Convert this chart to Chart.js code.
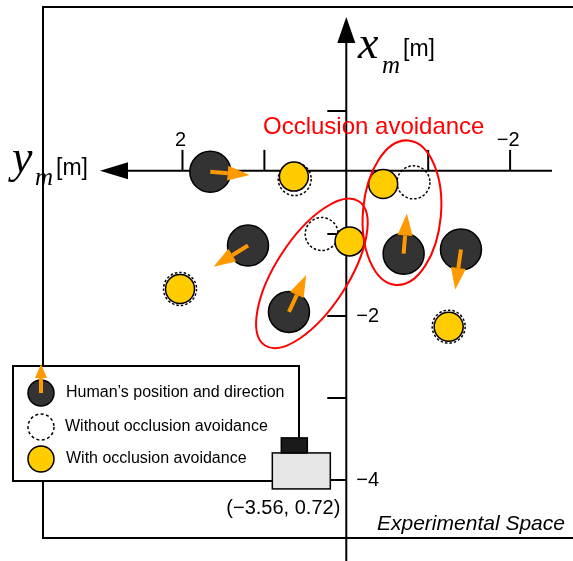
<!DOCTYPE html>
<html>
<head>
<meta charset="utf-8">
<script src="https://cdn.jsdelivr.net/npm/chart.js@4.4.1/dist/chart.umd.min.js"></script>
<style>
    html, body { margin: 0; padding: 0; background: #fff; }
    canvas { display: block; }
</style>
</head>
<body>
<canvas id="space" width="573" height="561"></canvas>
<script>
// positions in metres: y_m grows to the left, x_m grows upward
const humanY = [1.66, 1.20, 0.70, -0.70, -1.40];
const humanX = [-0.24, -1.14, -1.95, -1.24, -1.19];
// end point of each human's direction arrow
const headY = [1.18, 1.62, 0.49, -0.74, -1.33];
const headX = [-0.28, -1.40, -1.50, -0.75, -1.68];

// robot positions without occlusion avoidance
const plainY = [0.63, -0.82, 0.30, 2.03, -1.25];
const plainX = [-0.33, -0.37, -1.00, -1.67, -2.13];
// robot positions with occlusion avoidance
const avoidY = [0.64, -0.45, -0.04, 2.03, -1.25];
const avoidX = [-0.30, -0.39, -1.09, -1.67, -2.13];

// centres of the two circled "occlusion avoidance" cases
const groupY = [0.42, -0.68];
const groupX = [-1.48, -0.74];

const cameraY = 0.72;
const cameraX = -3.56;

const yTickVals = [2, 1, -1, -2];
const yTickText = ['2', '', '', '\u22122'];
const xTickVals = [0.5, -1, -2, -3, -4];
const xTickText = ['', '', '\u22122', '', '\u22124'];
const axisCross = -0.23;   // x_m where the y_m axis is drawn

const ORANGE = '#FF9900';
const SANS = '"Liberation Sans", Arial, sans-serif';
const SERIF = '"Liberation Serif", "Times New Roman", serif';

function pts(ys, xs) {
    return ys.map((v, i) => ({ x: v, y: xs[i] }));
}

function arrow(ctx, x0, y0, x1, y1, head, half, width) {
    const a = Math.atan2(y1 - y0, x1 - x0);
    const bx = x1 - head * Math.cos(a);
    const by = y1 - head * Math.sin(a);
    ctx.strokeStyle = ORANGE;
    ctx.fillStyle = ORANGE;
    ctx.lineWidth = width;
    ctx.lineCap = 'butt';
    ctx.beginPath();
    ctx.moveTo(x0, y0);
    ctx.lineTo(bx, by);
    ctx.stroke();
    ctx.beginPath();
    ctx.moveTo(x1, y1);
    ctx.lineTo(bx + half * Math.sin(a), by - half * Math.cos(a));
    ctx.lineTo(bx - half * Math.sin(a), by + half * Math.cos(a));
    ctx.closePath();
    ctx.fill();
}

function line(ctx, x0, y0, x1, y1) {
    ctx.beginPath();
    ctx.moveTo(x0, y0);
    ctx.lineTo(x1, y1);
    ctx.stroke();
}

const dashPlugin = {
    id: 'dash',
    beforeDatasetDraw(chart, args) {
        if (chart.data.datasets[args.index].dashed) {
            chart.ctx.save();
            chart.ctx.setLineDash([2.5, 2]);
        }
    },
    afterDatasetDraw(chart, args) {
        if (chart.data.datasets[args.index].dashed) {
            chart.ctx.restore();
        }
    }
};

const axesPlugin = {
    id: 'axes',
    beforeDatasetsDraw(chart) {
        const ctx = chart.ctx;
        const sx = chart.scales.x, sy = chart.scales.y;
        const ox = sx.getPixelForValue(0);
        const oy = sy.getPixelForValue(axisCross);

        ctx.save();
        ctx.strokeStyle = '#000';
        ctx.fillStyle = '#000';
        ctx.lineWidth = 2;

        // experimental space frame
        ctx.strokeRect(43, 7, 545, 531);

        // axes
        line(ctx, ox, 40, ox, 561);
        line(ctx, 126, oy, 552, oy);
        ctx.beginPath();
        ctx.moveTo(ox, 17); ctx.lineTo(ox - 9, 43); ctx.lineTo(ox + 9, 43);
        ctx.closePath(); ctx.fill();
        ctx.beginPath();
        ctx.moveTo(100, oy); ctx.lineTo(128, oy - 8.5); ctx.lineTo(128, oy + 8.5);
        ctx.closePath(); ctx.fill();

        // ticks
        ctx.font = '20px ' + SANS;
        ctx.textAlign = 'center';
        ctx.textBaseline = 'alphabetic';
        yTickVals.forEach((v, i) => {
            const p = sx.getPixelForValue(v);
            line(ctx, p, oy - 21, p, oy);
            if (yTickText[i]) ctx.fillText(yTickText[i], p - 2, oy - 25);
        });
        ctx.textAlign = 'left';
        ctx.textBaseline = 'middle';
        xTickVals.forEach((v, i) => {
            const p = sy.getPixelForValue(v);
            line(ctx, ox - 19, p, ox, p);
            if (xTickText[i]) ctx.fillText(xTickText[i], ox + 10, p);
        });

        // axis names
        ctx.textBaseline = 'alphabetic';
        ctx.font = 'italic 46px ' + SERIF;
        ctx.fillText('x', 358, 58);
        ctx.fillText('y', 12, 172);
        ctx.font = 'italic 25px ' + SERIF;
        ctx.fillText('m', 382, 73);
        ctx.fillText('m', 35, 185);
        ctx.font = '23px ' + SANS;
        ctx.fillText('[m]', 403, 56);
        ctx.fillText('[m]', 56, 175);

        // labels
        ctx.fillStyle = '#FF0000';
        ctx.font = '24px ' + SANS;
        ctx.fillText('Occlusion avoidance', 263, 134);
        ctx.fillStyle = '#000';
        ctx.font = 'italic 21px ' + SANS;
        ctx.fillText('Experimental Space', 377, 530);
        ctx.restore();
    },
    afterDatasetsDraw(chart) {
        const ctx = chart.ctx;
        const sx = chart.scales.x, sy = chart.scales.y;
        ctx.save();
        humanY.forEach((v, i) => {
            arrow(ctx,
                sx.getPixelForValue(v), sy.getPixelForValue(humanX[i]),
                sx.getPixelForValue(headY[i]), sy.getPixelForValue(headX[i]),
                22, 7.5, 4);
        });

        const shapes = [[36, 86, 33], [39, 72.5, 5]];
        ctx.strokeStyle = '#FF0000';
        ctx.lineWidth = 2;
        groupY.forEach((v, i) => {
            const s = shapes[i];
            ctx.beginPath();
            ctx.ellipse(sx.getPixelForValue(v), sy.getPixelForValue(groupX[i]),
                s[0], s[1], s[2] * Math.PI / 180, 0, Math.PI * 2);
            ctx.stroke();
        });
        ctx.restore();
    },
    afterDraw(chart) {
        const ctx = chart.ctx;
        const sx = chart.scales.x, sy = chart.scales.y;
        ctx.save();

        // legend
        ctx.fillStyle = '#fff';
        ctx.strokeStyle = '#000';
        ctx.lineWidth = 2;
        ctx.fillRect(13, 366, 286, 115);
        ctx.strokeRect(13, 366, 286, 115);

        ctx.lineWidth = 1.5;
        ctx.fillStyle = '#333';
        ctx.beginPath(); ctx.arc(41, 393, 13, 0, Math.PI * 2); ctx.fill(); ctx.stroke();
        arrow(ctx, 41, 393, 41, 364, 14, 6, 4);

        ctx.strokeStyle = '#000';
        ctx.lineWidth = 1.5;
        ctx.setLineDash([3, 2.5]);
        ctx.beginPath(); ctx.arc(41, 427, 13, 0, Math.PI * 2); ctx.stroke();
        ctx.setLineDash([]);
        ctx.fillStyle = '#FFCC00';
        ctx.beginPath(); ctx.arc(41, 459, 13, 0, Math.PI * 2); ctx.fill(); ctx.stroke();

        ctx.fillStyle = '#000';
        ctx.font = '16px ' + SANS;
        ctx.textAlign = 'left';
        ctx.textBaseline = 'middle';
        ctx.fillText('Human\u2019s position and direction', 66, 393);
        ctx.fillText('Without occlusion avoidance', 65, 427);
        ctx.fillText('With occlusion avoidance', 66, 459);

        // camera
        const cx = sx.getPixelForValue(cameraY);
        const cy = sy.getPixelForValue(cameraX);
        ctx.lineWidth = 1.5;
        ctx.fillStyle = '#E6E6E6';
        ctx.fillRect(cx - 15, cy + 9, 58, 36);
        ctx.strokeRect(cx - 15, cy + 9, 58, 36);
        ctx.fillStyle = '#1A1A1A';
        ctx.fillRect(cx - 6, cy - 6, 26, 15);
        ctx.strokeRect(cx - 6, cy - 6, 26, 15);

        ctx.fillStyle = '#000';
        ctx.font = '20px ' + SANS;
        ctx.textAlign = 'center';
        ctx.fillText('(\u22123.56, 0.72)', cx - 4, cy + 65);
        ctx.restore();
    }
};

new Chart(document.getElementById('space'), {
    type: 'scatter',
    data: {
        datasets: [
            {
                data: pts(avoidY, avoidX),
                pointRadius: 14.5,
                pointHoverRadius: 14.5,
                backgroundColor: '#FFCC00',
                borderColor: '#000',
                borderWidth: 1.5,
                order: 1
            },
            {
                data: pts(humanY, humanX),
                pointRadius: 20.5,
                pointHoverRadius: 20.5,
                backgroundColor: '#333333',
                borderColor: '#000',
                borderWidth: 1.5,
                order: 2
            },
            {
                data: pts(plainY, plainX),
                pointRadius: 16.5,
                pointHoverRadius: 16.5,
                backgroundColor: 'rgba(0,0,0,0)',
                borderColor: '#000',
                borderWidth: 1.5,
                dashed: true,
                order: 3
            }
        ]
    },
    options: {
        responsive: false,
        animation: false,
        events: [],
        layout: { padding: 0, autoPadding: false },
        plugins: { legend: { display: false }, tooltip: { enabled: false } },
        scales: {
            x: { type: 'linear', display: false, reverse: true, min: -2.768, max: 4.228 },
            y: { type: 'linear', display: false, min: -4.988, max: 1.854 }
        }
    },
    plugins: [dashPlugin, axesPlugin]
});
</script>
</body>
</html>
